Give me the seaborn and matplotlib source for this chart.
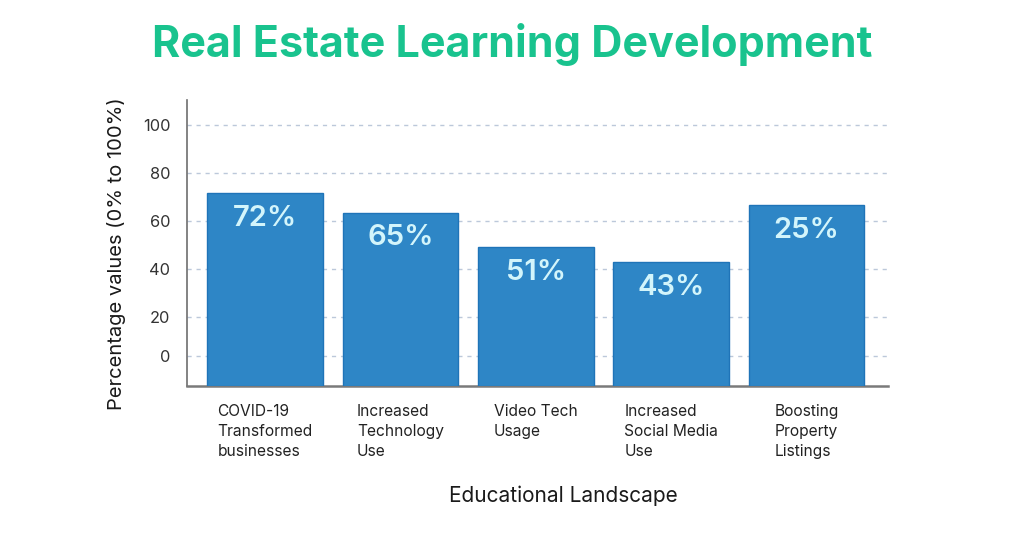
import matplotlib
matplotlib.use("Agg")
import matplotlib.pyplot as plt
import seaborn as sns
import pandas as pd

categories = ["COVID-19\nTransformed\nbusinesses",
              "Increased\nTechnology\nUse",
              "Video Tech\nUsage",
              "Increased\nSocial Media\nUse",
              "Boosting\nProperty\nListings"]
bar_values = [71.5, 63.5, 49.2, 42.9, 66.7]
bar_labels = ["72%", "65%", "51%", "43%", "25%"]
tick_values = [3.9, 20, 40, 60, 80, 100]
tick_labels = ["0", "20", "40", "60", "80", "100"]

base = -8.6

sns.set_theme(style="white")
plt.rcParams['font.family'] = ['Inter', 'DejaVu Sans']

fig = plt.figure(figsize=(10.24, 5.38), dpi=100)
ax = fig.add_axes([187/1024, 1 - 386/538, (888-187)/1024, (386-100)/538])

df = pd.DataFrame({"cat": categories, "h": [v - base for v in bar_values]})
sns.barplot(data=df, x="cat", y="h", ax=ax, color="#2e86c6", saturation=1,
            width=0.853, bottom=base, edgecolor="#1f74b8", linewidth=1.0, zorder=3)

ax.set_xlim(-0.576, 4.601)
ax.set_ylim(base, 110.4)

ax.set_yticks(tick_values)
ax.set_yticklabels(tick_labels)
for y in tick_values:
    ax.axhline(y, color="#bcc8da", lw=1.0, ls=(0, (3, 3.5)), zorder=1)
ax.tick_params(axis="y", length=0, pad=12, labelsize=11.8, labelcolor="#333333")
ax.tick_params(axis="x", length=0, pad=13, labelsize=11.2, labelcolor="#222222")
for lbl in ax.get_xticklabels():
    lbl.set_multialignment("left")
    lbl.set_linespacing(1.4)

for i, (v, t) in enumerate(zip(bar_values, bar_labels)):
    ax.text(i, v - 10.5, t, ha="center", va="center", fontsize=21,
            fontweight="semibold", color="#d3f5fb", zorder=4)

for s in ["top", "right"]:
    ax.spines[s].set_visible(False)
ax.spines["left"].set_color("#6e6e6e")
ax.spines["left"].set_linewidth(1.2)
ax.spines["bottom"].set_color("#7a7a7a")
ax.spines["bottom"].set_linewidth(1.8)

ax.set_xlabel("")
ax.set_ylabel("")
fig.text(563/1024, 1 - 496/538, "Educational Landscape", ha="center", va="center",
         fontsize=15, color="#1a1a1a")
fig.text(117/1024, 1 - 254/538, "Percentage values (0% to 100%)", ha="center",
         va="center", rotation=90, fontsize=14.5, color="#1a1a1a")
fig.text(0.5, 1 - 45/538, "Real Estate Learning Development", ha="center", va="center",
         fontsize=31, fontweight="bold", color="#19c38e")

fig.savefig("out.png", dpi=100)
